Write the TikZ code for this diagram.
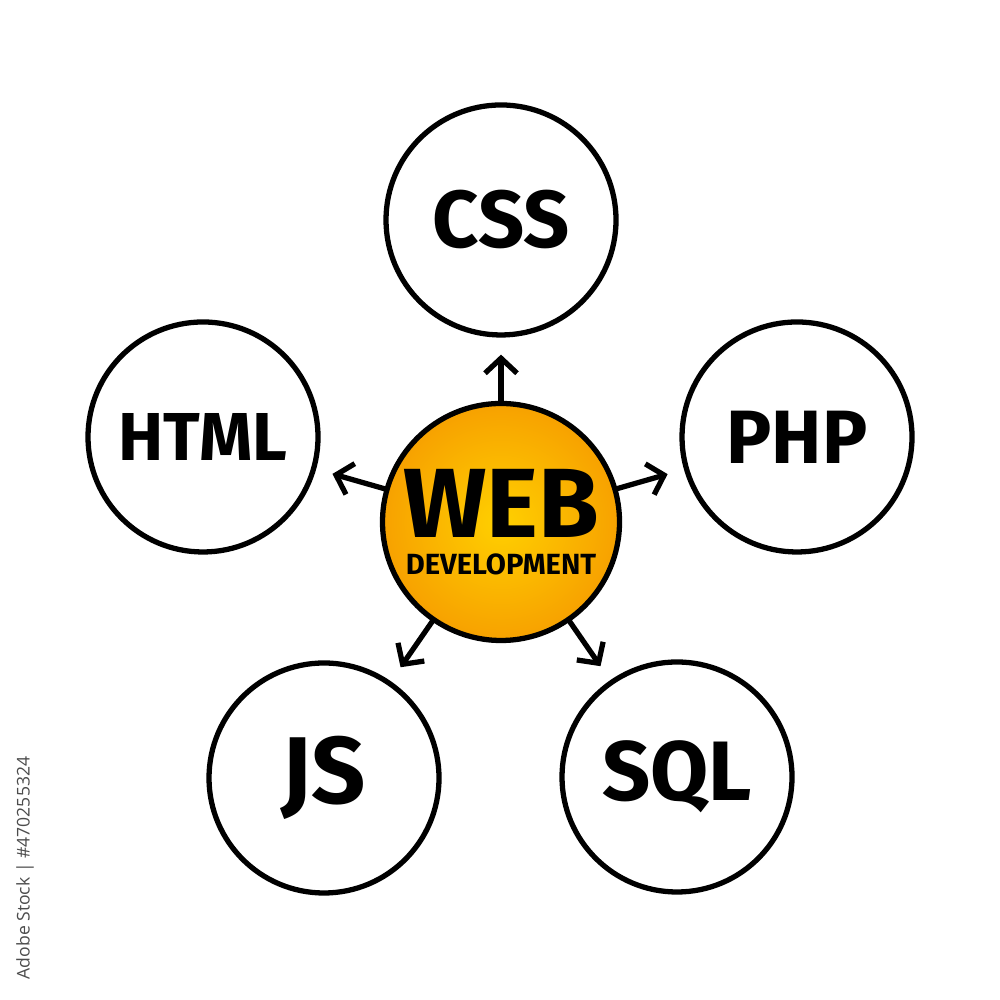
\documentclass[tikz,border=0pt]{standalone}
\usepackage{fontspec}
\setsansfont{Fira Sans}
\newfontfamily\stockfont{Open Sans}
\usepackage{tikz}
\usetikzlibrary{arrows.meta}
\definecolor{webyellow}{HTML}{FFD000}
\definecolor{weborange}{HTML}{F7A100}

\begin{document}
\begin{tikzpicture}[->,>={Straight Barb[length=0.15cm,width=0.32cm]},shorten >=0.17cm,
  line width=1.5pt,line cap=round,
  topic node/.style={circle,draw,minimum size=2.3cm,inner sep=0pt,
    font=\sffamily\bfseries\fontsize{#1}{#1}\selectfont},
  hub node/.style={circle,draw,minimum size=2.37cm,inner sep=0pt,align=center,
    shading=radial,inner color=webyellow,outer color=weborange,font=\sffamily\bfseries}]
  \useasboundingbox (0,0) rectangle (10,10);

  \node[hub node] (web) at (5.01,4.78)
    {{\fontsize{28}{28}\selectfont WEB}\\[-1.3pt]{\fontsize{8.3}{8.3}\selectfont DEVELOPMENT}};
  \node[topic node=23] (css) at (5.01,7.80) {CSS};
  \node[topic node=19.3] (html) at (2.03,5.63) {HTML};
  \node[topic node=21.5] (php) at (7.97,5.63) {PHP};
  \node[topic node=27] (js) at (3.24,2.22) {JS};
  \node[topic node=24] (sql) at (6.77,2.23) {SQL};

  \path
    (web) edge (css)
    (web) edge (html)
    (web) edge (php)
    (web) edge (js)
    (web) edge (sql);

  \node[rotate=90,text=black!70,font=\stockfont\fontsize{5}{6}\selectfont] (stock)
    at (0.25,1.32) {Adobe Stock | \#470255324};
\end{tikzpicture}
\end{document}
